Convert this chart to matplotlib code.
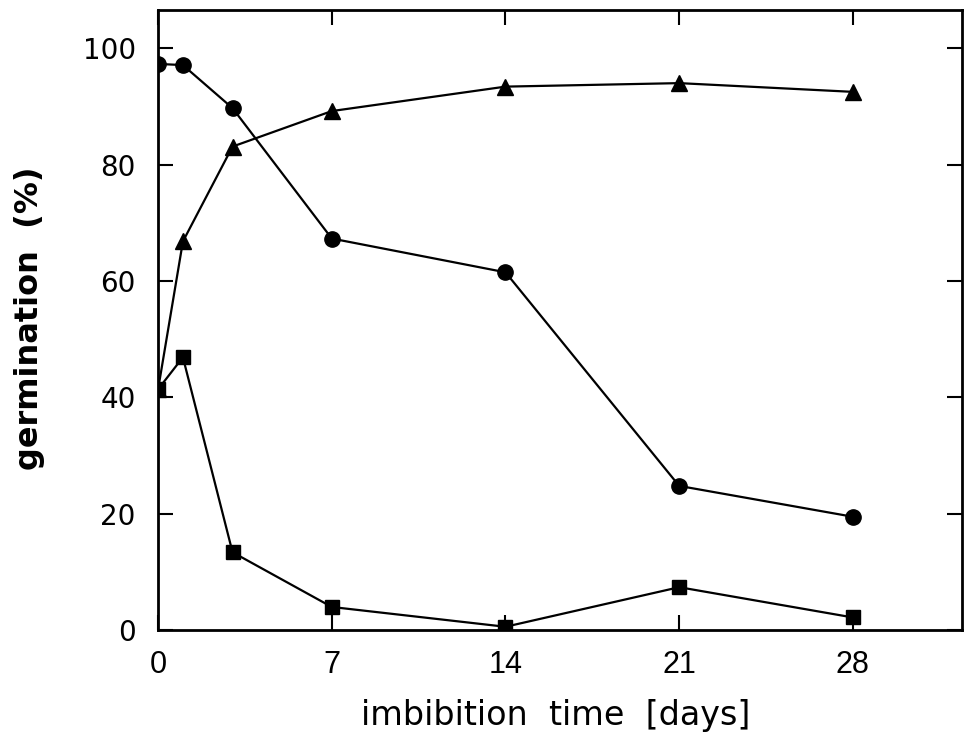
import matplotlib
matplotlib.use("Agg")
import matplotlib.pyplot as plt

# imbibition time in days
days = [0, 1, 3, 7, 14, 21, 28]

# germination (%) for the three series
circles = [97.3, 97.1, 89.7, 67.3, 61.5, 24.8, 19.5]
triangles = [41.4, 66.8, 83.1, 89.2, 93.4, 94.0, 92.5]
squares = [41.4, 46.9, 13.4, 4.0, 0.6, 7.4, 2.2]

x_ticks = [0, 7, 14, 21, 28]
y_ticks = [0, 20, 40, 60, 80, 100]

fig = plt.figure(figsize=(9.64, 7.53), dpi=100)
ax = fig.add_axes([0.164, 0.163, 0.834, 0.824])

line_kw = dict(color="black", linewidth=1.6)
ax.plot(days, circles, marker="o", markersize=11, **line_kw)
ax.plot(days, triangles, marker="^", markersize=11, **line_kw)
ax.plot(days, squares, marker="s", markersize=10, **line_kw)

ax.set_xlim(0, 32.4)
ax.set_ylim(0, 106.6)
ax.set_xticks(x_ticks)
ax.set_yticks(y_ticks)

for spine in ax.spines.values():
    spine.set_linewidth(2)

ax.tick_params(direction="in", length=11, width=1.5, top=True, right=True)
ax.tick_params(axis="x", pad=14)
ax.tick_params(axis="y", pad=16)

for lbl in ax.get_xticklabels():
    lbl.set_family(["Liberation Sans Narrow", "Liberation Sans"])
    lbl.set_fontsize(22)
for lbl in ax.get_yticklabels():
    lbl.set_family("DejaVu Sans")
    lbl.set_fontsize(20)

fig.text(0.576, 0.05, "imbibition  time  [days]", ha="center", va="center",
         fontsize=24, family="DejaVu Sans")
fig.text(0.031, 0.578, "germination  (%)", ha="center", va="center",
         rotation=90, fontsize=23, fontweight="bold", family="DejaVu Sans")

fig.savefig("out.png", dpi=100)
